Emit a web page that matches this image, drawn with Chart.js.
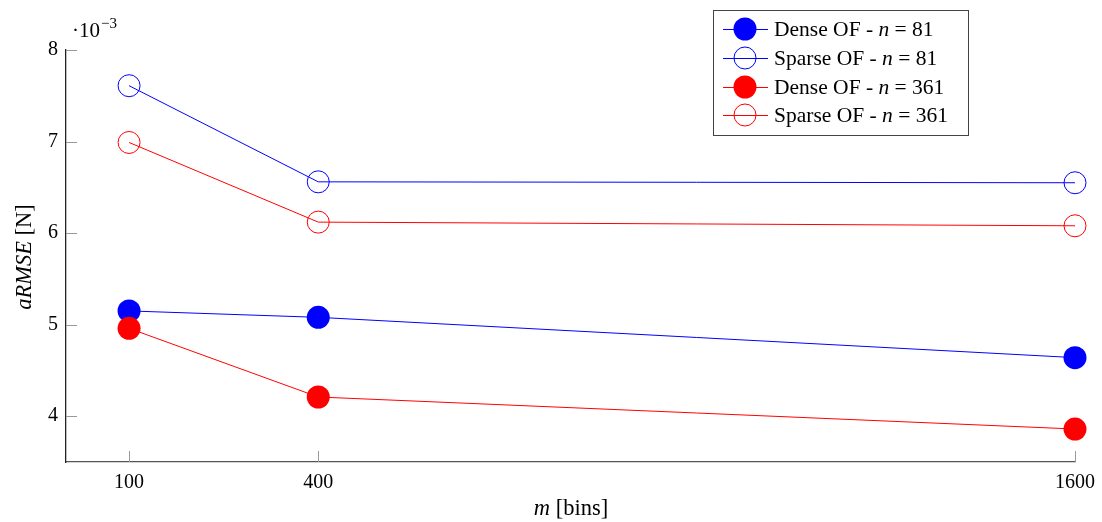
<!DOCTYPE html>
<html>
<head>
<meta charset="utf-8">
<script src="https://cdn.jsdelivr.net/npm/chart.js@4/dist/chart.umd.min.js"></script>
<style>
html,body{margin:0;padding:0;background:#fff;}
#wrap{width:1102px;height:522px;}
</style>
</head>
<body>
<div id="wrap"><canvas id="c" width="1102" height="522"></canvas></div>
<script>
// ---- data (values in units of 10^-3 N) ----
const binsM = [100, 400, 1600];
const xTickValues = [100, 400, 1600];
const yTickValues = [4, 5, 6, 7, 8];
const denseOF81 = [5.15, 5.08, 4.64];
const sparseOF81 = [7.61, 6.56, 6.55];
const denseOF361 = [4.96, 4.21, 3.86];
const sparseOF361 = [6.99, 6.12, 6.08];
const seriesLabels = ['Dense OF - n = 81', 'Sparse OF - n = 81', 'Dense OF - n = 361', 'Sparse OF - n = 361'];

const BLUE = '#0000ff', RED = '#ff0000';
const SERIF = '"Liberation Serif", "DejaVu Serif", serif';

function pts(arr){ return binsM.map((x,i)=>({x:x, y:arr[i]})); }

function ds(label, arr, color, filled, order){
  return {
    label: label,
    data: pts(arr),
    borderColor: color,
    borderWidth: 1,
    backgroundColor: filled ? color : 'rgba(0,0,0,0)',
    pointBackgroundColor: filled ? color : 'rgba(0,0,0,0)',
    pointBorderColor: color,
    pointBorderWidth: filled ? 0 : 1,
    pointRadius: filled ? 11.5 : 11,
    pointHoverRadius: filled ? 11.5 : 11,
    fill: false,
    tension: 0,
    clip: false,
    order: order,
    _filled: filled
  };
}

const extras = {
  id: 'extras',
  afterDraw(chart){
    const ctx = chart.ctx;
    const xs = chart.scales.x, ys = chart.scales.y;
    const area = chart.chartArea;
    ctx.save();
    // inward tick marks
    ctx.strokeStyle = '#999';
    ctx.lineWidth = 1;
    yTickValues.forEach(v=>{
      const py = Math.round(ys.getPixelForValue(v)) + 0.5;
      ctx.beginPath(); ctx.moveTo(area.left, py); ctx.lineTo(area.left + 11, py); ctx.stroke();
    });
    xTickValues.forEach(v=>{
      const px = Math.round(xs.getPixelForValue(v)) + 0.5;
      ctx.beginPath(); ctx.moveTo(px, area.bottom); ctx.lineTo(px, area.bottom - 11); ctx.stroke();
    });

    ctx.fillStyle = '#000';
    // multiplier
    ctx.textBaseline = 'alphabetic';
    ctx.textAlign = 'left';
    ctx.font = '21px ' + SERIF;
    ctx.fillText('\u00b710', 72, 37);
    const w10 = ctx.measureText('\u00b710').width;
    ctx.font = '15px ' + SERIF;
    ctx.fillText('\u22123', 72 + w10 + 1, 28);

    // y title
    ctx.save();
    ctx.translate(31, 257);
    ctx.rotate(-Math.PI/2);
    ctx.font = 'italic 22.5px ' + SERIF;
    const a1 = 'aRMSE';
    const wa = ctx.measureText(a1).width;
    ctx.font = '22.5px ' + SERIF;
    const a2 = ' [N]';
    const wb = ctx.measureText(a2).width;
    let sx = -(wa + wb)/2;
    ctx.font = 'italic 22.5px ' + SERIF;
    ctx.fillText(a1, sx, 0);
    ctx.font = '22.5px ' + SERIF;
    ctx.fillText(a2, sx + wa, 0);
    ctx.restore();

    // x title
    ctx.font = 'italic 22.5px ' + SERIF;
    const m1 = 'm'; const wm = ctx.measureText(m1).width;
    ctx.font = '22.5px ' + SERIF;
    const m2 = ' [bins]'; const wn = ctx.measureText(m2).width;
    let mx = 571 - (wm + wn)/2;
    ctx.font = 'italic 22.5px ' + SERIF;
    ctx.fillText(m1, mx, 515);
    ctx.font = '22.5px ' + SERIF;
    ctx.fillText(m2, mx + wm, 515);

    // legend
    const lx = 713.5, ly = 10.5, lw = 255, lh = 125;
    ctx.fillStyle = '#fff';
    ctx.fillRect(lx, ly, lw, lh);
    ctx.strokeStyle = '#444';
    ctx.lineWidth = 1;
    ctx.strokeRect(lx, ly, lw, lh);
    const rowY = [29, 58, 87, 115];
    chart.data.datasets.forEach((d, i)=>{
      const cy = rowY[i];
      ctx.strokeStyle = d.borderColor;
      ctx.lineWidth = 1;
      ctx.beginPath(); ctx.moveTo(723, cy + 0.5); ctx.lineTo(768, cy + 0.5); ctx.stroke();
      ctx.beginPath();
      ctx.arc(745, cy, d._filled ? 11.5 : 11, 0, Math.PI*2);
      if (d._filled){ ctx.fillStyle = d.borderColor; ctx.fill(); }
      else { ctx.stroke(); }
      // label with italic n
      const parts = d.label.split('n = ');
      ctx.fillStyle = '#000';
      ctx.textBaseline = 'middle';
      let tx = 774;
      ctx.font = '21.5px ' + SERIF;
      ctx.fillText(parts[0], tx, cy + 1); tx += ctx.measureText(parts[0]).width;
      ctx.font = 'italic 21.5px ' + SERIF;
      ctx.fillText('n', tx, cy + 1); tx += ctx.measureText('n').width;
      ctx.font = '21.5px ' + SERIF;
      ctx.fillText(' = ' + parts[1], tx, cy + 1);
    });
    ctx.restore();
  }
};

new Chart(document.getElementById('c'), {
  type: 'line',
  data: {
    datasets: [
      ds(seriesLabels[0], denseOF81, BLUE, true, 4),
      ds(seriesLabels[1], sparseOF81, BLUE, false, 3),
      ds(seriesLabels[2], denseOF361, RED, true, 2),
      ds(seriesLabels[3], sparseOF361, RED, false, 1)
    ]
  },
  options: {
    responsive: false,
    animation: false,
    devicePixelRatio: 1,
    layout: { padding: { top: 50, right: 27, left: 0, bottom: 0 } },
    plugins: { legend: { display: false }, tooltip: { enabled: false }, title: { display: false } },
    scales: {
      x: {
        type: 'linear',
        min: 0, max: 1600,
        afterBuildTicks(scale){ scale.ticks = xTickValues.map(v=>({value:v})); },
        afterFit(scale){ scale.height = 60; scale.paddingLeft = 0; scale.paddingRight = 0; },
        grid: { display: true, drawOnChartArea: false, drawTicks: false, color: 'rgba(0,0,0,0)' },
        border: { display: true, color: '#555', width: 1.3 },
        ticks: { color: '#000', font: { family: SERIF, size: 20 }, padding: 9, maxRotation: 0, autoSkip: false,
                 callback: (v)=>String(v) }
      },
      y: {
        type: 'linear',
        min: 3.5, max: 8,
        afterBuildTicks(scale){ scale.ticks = yTickValues.map(v=>({value:v})); },
        afterFit(scale){ scale.width = 66; scale.paddingTop = 0; scale.paddingBottom = 0; },
        grid: { display: true, drawOnChartArea: false, drawTicks: false, color: 'rgba(0,0,0,0)' },
        border: { display: true, color: '#222', width: 1.3 },
        ticks: { color: '#000', font: { family: SERIF, size: 20 }, padding: 8, callback: (v)=>String(v) }
      }
    }
  },
  plugins: [extras]
});
</script>
</body>
</html>
